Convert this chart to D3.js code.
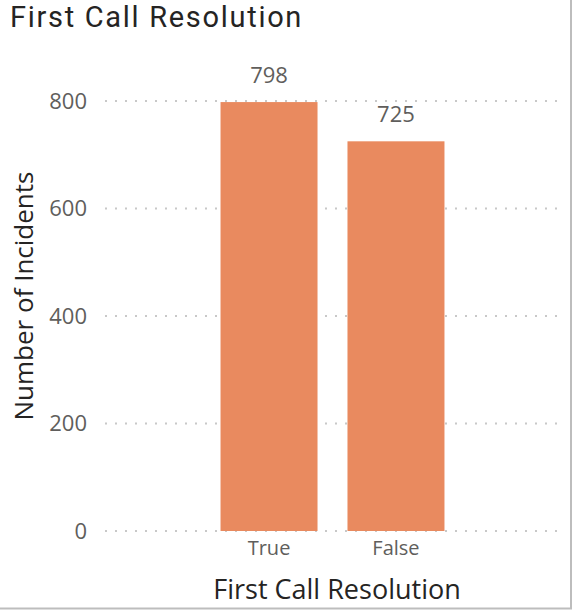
<!DOCTYPE html>
<html>
<head>
<meta charset="utf-8">
<script src="https://cdn.jsdelivr.net/npm/d3@7"></script>
<style>
  body { margin: 0; background: #fff; }
  svg text { font-family: "Open Sans", Roboto, sans-serif; }
</style>
</head>
<body>
<svg id="chart" width="572" height="610"></svg>
<script>
// Chart data
const categories = ["True", "False"];
const incidents = [798, 725];
const yTicks = [0, 200, 400, 600, 800];

const svg = d3.select("#chart");
const barColor = "#e98a5f";
const fontStack = "\"Open Sans\", Roboto, sans-serif";

// Plot area
const plotLeft = 105, plotRight = 560, plotTop = 101, plotBottom = 531;

const x = d3.scaleBand()
    .domain(categories)
    .range([plotLeft, plotRight])
    .paddingInner(0.236)
    .paddingOuter(0.91);

const y = d3.scaleLinear()
    .domain([0, 800])
    .range([plotBottom, plotTop]);

// Outer frame (right and bottom edges)
svg.append("line")
    .attr("x1", 571).attr("x2", 571).attr("y1", 0).attr("y2", 609)
    .attr("stroke", "#bdbdbd").attr("stroke-width", 2);
svg.append("line")
    .attr("x1", 0).attr("x2", 572).attr("y1", 608.5).attr("y2", 608.5)
    .attr("stroke", "#bdbdbd").attr("stroke-width", 2);

// Title (Roboto has a shorter ascent, so it sits close to the top edge without clipping)
svg.append("text")
    .attr("x", 10)
    .attr("y", 27)
    .attr("font-size", 29)
    .attr("letter-spacing", 1.7)
    .attr("fill", "#252423")
    .style("font-family", "Roboto, \"Open Sans\", sans-serif")
    .text("First Call Resolution");

// Dotted gridlines
svg.append("g")
    .selectAll("line")
    .data(yTicks)
    .enter()
    .append("line")
    .attr("x1", plotLeft)
    .attr("x2", plotRight)
    .attr("y1", (d) => y(d))
    .attr("y2", (d) => y(d))
    .attr("stroke", "#c8c8c8")
    .attr("stroke-width", 2)
    .attr("stroke-dasharray", "2,8");

// Y axis
const yAxis = svg.append("g")
    .attr("transform", "translate(" + (plotLeft - 18) + ",0)")
    .call(d3.axisLeft(y).tickValues(yTicks).tickSize(0).tickPadding(0));
yAxis.select(".domain").remove();
yAxis.selectAll("text")
    .attr("font-size", 22)
    .attr("fill", "#605e5c")
    .style("font-family", fontStack);

// Bars
svg.append("g")
    .selectAll("rect")
    .data(incidents)
    .enter()
    .append("rect")
    .attr("x", (d, i) => x(categories[i]))
    .attr("y", (d) => y(d))
    .attr("width", x.bandwidth())
    .attr("height", (d) => y(0) - y(d))
    .attr("fill", barColor);

// Data labels
svg.append("g")
    .selectAll("text")
    .data(incidents)
    .enter()
    .append("text")
    .attr("x", (d, i) => x(categories[i]) + x.bandwidth() / 2)
    .attr("y", (d) => y(d) - 19)
    .attr("text-anchor", "middle")
    .attr("font-size", 22)
    .attr("fill", "#605e5c")
    .text((d) => d);

// X axis
const xAxis = svg.append("g")
    .attr("transform", "translate(0," + (plotBottom + 10) + ")")
    .call(d3.axisBottom(x).tickSize(0).tickPadding(0));
xAxis.select(".domain").remove();
xAxis.selectAll("text")
    .attr("font-size", 20)
    .attr("fill", "#605e5c")
    .style("font-family", fontStack);

// Axis titles
svg.append("text")
    .attr("x", 337)
    .attr("y", 599)
    .attr("text-anchor", "middle")
    .attr("font-size", 27)
    .attr("fill", "#252423")
    .text("First Call Resolution");

svg.append("text")
    .attr("transform", "translate(33,296) rotate(-90)")
    .attr("text-anchor", "middle")
    .attr("font-size", 26)
    .attr("fill", "#252423")
    .text("Number of Incidents");
</script>
</body>
</html>
